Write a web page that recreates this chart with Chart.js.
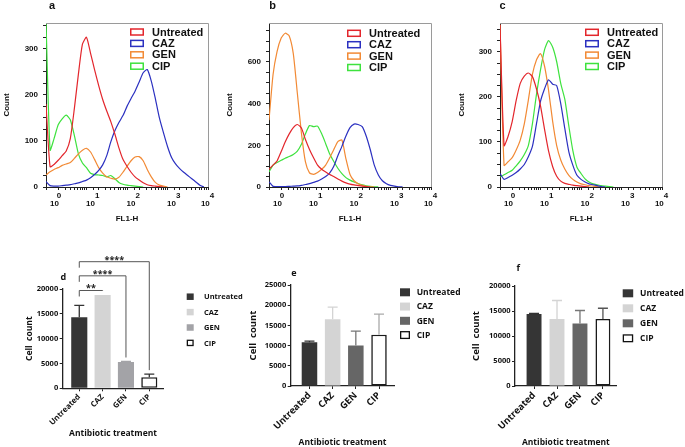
<!DOCTYPE html>
<html>
<head>
<meta charset="utf-8">
<script src="https://cdn.jsdelivr.net/npm/chart.js@4.4.1/dist/chart.umd.min.js"></script>
<style>
  body { margin: 0; background: #fff; }
  #wrap { position: relative; width: 685px; height: 447px; overflow: hidden; background: #fff; }
  canvas { position: absolute; }
</style>
</head>
<body>
<div id="wrap">
  <canvas id="histA" width="222" height="224" style="left:0px;top:0px"></canvas>
  <canvas id="histB" width="222" height="224" style="left:223px;top:0px"></canvas>
  <canvas id="histC" width="222" height="224" style="left:455px;top:0px"></canvas>
  <canvas id="barD" width="230" height="199" style="left:24px;top:240px"></canvas>
  <canvas id="barE" width="222" height="198" style="left:248px;top:250px"></canvas>
  <canvas id="barF" width="214" height="198" style="left:471px;top:250px"></canvas>
</div>
<script>
// FL1-H channels (0.1 decade apart)
const flChannels = [1, 1.26, 1.58, 2, 2.51, 3.16, 3.98, 5.01, 6.31, 7.94,
  10, 12.6, 15.8, 20, 25.1, 31.6, 39.8, 50.1, 63.1, 79.4,
  100, 126, 158, 200, 251, 316, 398, 501, 631, 794,
  1000, 1260, 1580, 2000, 2510, 3160, 3980, 5010, 6310, 7940, 10000];
const decades = [1, 10, 100, 1000, 10000];
const decadeLabels = ['0', '1', '2', '3', '4'];
const seriesNames = ['Untreated', 'CAZ', 'GEN', 'CIP'];

// panel a counts
const aUntreated = [180, 44, 49, 58, 68, 78, 105, 170, 245, 310, 325, 290, 255, 220, 190, 165, 142, 115, 85, 60, 45, 32, 22, 15, 9, 5, 3, 2, 1, 0];
const aCAZ = [12, 3, 2, 2, 3, 4, 5, 7, 9, 12, 15, 20, 27, 36, 48, 68, 98, 122, 140, 155, 175, 192, 208, 228, 248, 255, 230, 192, 150, 118, 88, 64, 50, 40, 32, 25, 18, 11, 4, 0];
const aGEN = [26, 33, 38, 42, 47, 50, 53, 62, 72, 80, 84, 76, 60, 42, 30, 22, 19, 17, 21, 32, 45, 57, 65, 66, 57, 38, 22, 10, 4, 2, 0];
const aCIP = [360, 80, 105, 135, 148, 156, 146, 112, 72, 52, 42, 30, 27, 26, 25, 22, 25, 18, 10, 6, 4, 3, 2, 1, 0];

// panel b counts
const bUntreated = [85, 105, 125, 170, 216, 255, 285, 300, 283, 228, 180, 140, 105, 85, 72, 60, 50, 38, 28, 20, 14, 10, 7, 4, 2, 0];
const bCAZ = [25, 3, 2, 2, 2, 3, 4, 5, 8, 12, 16, 22, 28, 38, 50, 68, 100, 150, 195, 245, 285, 302, 300, 290, 245, 180, 105, 58, 30, 16, 8, 4, 1, 0];
const bGEN = [320, 540, 650, 715, 738, 725, 640, 450, 260, 120, 68, 61, 70, 85, 105, 140, 180, 218, 225, 135, 60, 30, 16, 8, 3, 1, 0];
const bCIP = [72, 105, 118, 128, 138, 146, 156, 172, 205, 255, 295, 290, 292, 255, 208, 158, 122, 90, 64, 45, 33, 24, 17, 10, 6, 3, 1, 0];

// panel c counts
const cUntreated = [360, 92, 112, 145, 192, 230, 246, 253, 245, 218, 180, 128, 80, 45, 24, 13, 8, 6, 4, 3, 2, 1, 0];
const cCAZ = [30, 17, 21, 26, 32, 40, 50, 67, 90, 140, 190, 218, 238, 228, 225, 185, 130, 78, 48, 26, 17, 11, 7, 5, 3, 1, 0];
const cGEN = [360, 48, 56, 65, 82, 104, 140, 193, 250, 282, 296, 268, 215, 145, 92, 60, 40, 26, 17, 11, 7, 5, 3, 2, 1, 0];
const cCIP = [22, 27, 32, 37, 47, 58, 72, 92, 140, 205, 260, 305, 325, 310, 278, 230, 195, 135, 80, 44, 30, 18, 11, 7, 5, 3, 2, 1, 0];

// cell counts (mean, upper error)
const cats = ['Untreated', 'CAZ', 'GEN', 'CIP'];
const dMeans = [14300, 18800, 5300, 2250];
const dErr = [2400, 0, 100, 600];
const eMeans = [10800, 16500, 10000, 12700];
const eErr = [300, 3000, 3600, 5100];
const fMeans = [14400, 13400, 12500, 13400];
const fErr = [100, 3700, 2600, 2150];
const yTicksBar = [0, 5000, 10000, 15000, 20000, 25000];

// significance brackets in d
const sigFrom = [0, 0, 0];
const sigTo = [1, 2, 3];
const sigLevel = [19700, 22650, 25500];
const sigStars = ['**', '****', '****'];

const histColors = ['#e3262c', '#2b30c0', '#f28a35', '#3ee23e'];
const HF = 'Liberation Sans';
const BF = 'Open Sans';

function decor(cfg) {
  return {
    id: 'decor',
    afterDatasetsDraw(chart) {
      const ctx = chart.ctx;
      const area = chart.chartArea;
      ctx.save();
      if (cfg.frame) {
        ctx.strokeStyle = '#9a9a9a';
        ctx.lineWidth = 1;
        ctx.beginPath();
        ctx.moveTo(area.left, area.top + 0.5);
        ctx.lineTo(area.right + 0.5, area.top + 0.5);
        ctx.lineTo(area.right + 0.5, area.bottom);
        ctx.stroke();
      }
      if (cfg.errs) {
        const ys = chart.scales.y;
        const meta = chart.getDatasetMeta(0);
        cfg.errs.forEach((e, i) => {
          if (!e) return;
          const x = meta.data[i].x;
          const y0 = ys.getPixelForValue(cfg.means[i]);
          const y1 = ys.getPixelForValue(cfg.means[i] + e);
          ctx.strokeStyle = cfg.errColors[i];
          ctx.lineWidth = 1.3;
          ctx.beginPath();
          ctx.moveTo(x, y0);
          ctx.lineTo(x, y1);
          ctx.moveTo(x - 5, y1);
          ctx.lineTo(x + 5, y1);
          ctx.stroke();
        });
      }
      if (cfg.sig) {
        const ys = chart.scales.y;
        const meta = chart.getDatasetMeta(0);
        ctx.strokeStyle = '#555';
        ctx.lineWidth = 1;
        ctx.fillStyle = '#222';
        ctx.font = 'bold 9px "' + BF + '"';
        ctx.textAlign = 'center';
        ctx.textBaseline = 'alphabetic';
        sigFrom.forEach((f, k) => {
          const xa = meta.data[f].x;
          const xb = meta.data[sigTo[k]].x;
          const yl = ys.getPixelForValue(sigLevel[k]);
          const tgt = ys.getPixelForValue(cfg.means[sigTo[k]] + cfg.errs[sigTo[k]]) - 4;
          ctx.beginPath();
          ctx.moveTo(xa, yl + 6);
          ctx.lineTo(xa, yl);
          ctx.lineTo(xb, yl);
          ctx.lineTo(xb, Math.max(yl, tgt));
          ctx.stroke();
          ctx.fillText(sigStars[k], (xa + xb) / 2, yl + 1);
        });
      }
      if (cfg.legend) {
        const L = cfg.legend;
        ctx.font = L.font;
        ctx.textAlign = 'left';
        ctx.textBaseline = 'middle';
        seriesNames.forEach((lab, i) => {
          const y = L.y + L.dy * i;
          ctx.fillStyle = L.fills[i];
          ctx.fillRect(L.x, y - L.h / 2, L.w, L.h);
          if (L.strokes[i]) {
            ctx.strokeStyle = L.strokes[i];
            ctx.lineWidth = L.lw;
            ctx.strokeRect(L.x + L.lw / 2, y - L.h / 2 + L.lw / 2, L.w - L.lw, L.h - L.lw);
          }
          ctx.fillStyle = '#111';
          ctx.fillText(lab, L.textX, y + 0.5);
        });
      }
      if (cfg.letter) {
        ctx.fillStyle = '#111';
        ctx.font = cfg.letterFont;
        ctx.textAlign = 'center';
        ctx.textBaseline = 'middle';
        ctx.fillText(cfg.letter, cfg.letterX, cfg.letterY);
      }
      ctx.restore();
    }
  };
}

function pts(ys) {
  return ys.map((y, i) => ({ x: flChannels[i], y: y }));
}

// "10" with the exponent raised above its right end; the end labels are nudged inward
function decadeTick(i) {
  if (i === 0) return ['        ' + decadeLabels[i], '    10'];
  if (i === decades.length - 1) return [decadeLabels[i], '10      '];
  return ['      ' + decadeLabels[i], '10'];
}

function makeHist(id, series, o) {
  new Chart(document.getElementById(id), {
    type: 'line',
    data: {
      datasets: series.map((s, i) => ({
        label: seriesNames[i],
        data: pts(s),
        borderColor: histColors[i],
        borderWidth: 1.2,
        pointRadius: 0,
        tension: 0.2,
        fill: false
      }))
    },
    options: {
      responsive: false,
      animation: false,
      events: [],
      layout: { padding: { left: 0, right: o.padRight, top: 23, bottom: 0 } },
      plugins: { legend: { display: false }, tooltip: { enabled: false } },
      scales: {
        x: {
          type: 'logarithmic',
          min: 1,
          max: 10000,
          afterBuildTicks: s => { s.ticks = s.ticks.filter(t => t.value >= 1 && t.value <= 10000); },
          afterFit: s => { s.height = 224 - 187; },
          grid: { drawOnChartArea: false, tickLength: 3, color: '#222' },
          border: { color: '#222', width: 1 },
          ticks: {
            autoSkip: false, maxRotation: 0, minRotation: 0, labelOffset: 4, padding: 2, color: '#111',
            font: { family: HF, weight: 'bold', size: 8, lineHeight: 1 },
            callback: v => {
              const i = decades.findIndex(d => Math.abs(v - d) < d * 1e-6);
              return i < 0 ? '' : decadeTick(i);
            }
          },
          title: { display: true, text: 'FL1-H', color: '#111', padding: 0,
                   font: { family: HF, weight: 'bold', size: 8 } }
        },
        y: {
          min: 0,
          max: o.yMax,
          afterFit: s => { s.width = o.yWidth; },
          grid: { drawOnChartArea: false, tickLength: 3, color: '#222' },
          border: { color: '#222', width: 1 },
          ticks: {
            stepSize: o.yStep, includeBounds: false, autoSkip: false, padding: 5, color: '#111',
            font: { family: HF, weight: 'bold', size: 8 },
            callback: v => (v % o.yMajor === 0 ? String(v) : '')
          },
          title: { display: true, text: 'Count', color: '#111', padding: { top: 1.5, bottom: 0 },
                   font: { family: HF, weight: 'bold', size: 8 } }
        }
      }
    },
    plugins: [decor({
      frame: true,
      letter: o.letter, letterX: o.letterX, letterY: 6, letterFont: 'bold 11px "' + HF + '"',
      legend: {
        x: o.legX, textX: o.legX + 22, y: o.legY, dy: 11.4, w: 14, h: 7.5, lw: 1.5,
        fills: ['#fff', '#fff', '#fff', '#fff'], strokes: histColors,
        font: 'bold 11px "' + HF + '"'
      }
    })]
  });
}

function makeBars(id, means, errs, o) {
  new Chart(document.getElementById(id), {
    type: 'bar',
    data: {
      datasets: [{
        data: means.map((m, i) => ({ x: i, y: m })),
        backgroundColor: o.fills,
        borderColor: '#1a1a1a',
        borderWidth: [0, 0, 0, 1.6],
        borderSkipped: false,
        barPercentage: o.barPct,
        categoryPercentage: 1
      }]
    },
    options: {
      responsive: false,
      animation: false,
      events: [],
      layout: { padding: { left: 0, right: o.padRight, top: o.padTop, bottom: 0 } },
      plugins: { legend: { display: false }, tooltip: { enabled: false } },
      scales: {
        x: {
          type: 'linear',
          offset: false,
          min: o.xMin,
          max: o.xMax,
          afterBuildTicks: s => { s.ticks = cats.map((c, i) => ({ value: i })); },
          afterFit: s => { s.height = o.xHeight; },
          grid: { offset: false, drawOnChartArea: false, tickLength: 3, color: '#222' },
          border: { color: '#222', width: 1.3 },
          ticks: {
            autoSkip: false, minRotation: 45, maxRotation: 45, padding: 1, color: '#111',
            font: { family: BF, weight: 'bold', size: o.catFont },
            callback: v => cats[v]
          },
          title: { display: true, text: 'Antibiotic treatment', color: '#111', padding: 0,
                   font: { family: BF, weight: 'bold', size: 8.5 } }
        },
        y: {
          min: 0,
          max: o.yMax,
          afterBuildTicks: s => { s.ticks = yTicksBar.filter(t => t <= o.yMax).map(t => ({ value: t })); },
          afterFit: s => { s.width = o.yWidth; },
          grid: { drawOnChartArea: false, tickLength: 3, color: '#222' },
          border: { color: '#222', width: 1.3 },
          ticks: {
            autoSkip: false, padding: 1.5, color: '#111',
            font: { family: BF, weight: 'bold', size: 7.5 },
            callback: v => String(v)
          },
          title: { display: true, text: 'Cell  count', color: '#111', padding: 0,
                   font: { family: BF, weight: 'bold', size: o.titleFont } }
        }
      }
    },
    plugins: [decor({
      means: means, errs: errs, errColors: o.errColors, sig: o.sig,
      letter: o.letter, letterX: o.letterX, letterY: o.letterY, letterFont: 'bold 9px "' + BF + '"',
      legend: {
        x: o.legX, textX: o.legTextX, y: o.legY, dy: o.legDy, w: o.legW, h: o.legH, lw: 1.3,
        fills: o.fills, strokes: [null, null, null, '#111'],
        font: 'bold ' + o.legFont + 'px "' + BF + '"'
      }
    })]
  });
}

makeHist('histA', [aUntreated, aCAZ, aGEN, aCIP],
  { yMax: 356, yStep: 25, yMajor: 100, yWidth: 46, padRight: 14, letter: 'a', letterX: 52, legX: 130, legY: 32 });
makeHist('histB', [bUntreated, bCAZ, bGEN, bCIP],
  { yMax: 787, yStep: 50, yMajor: 200, yWidth: 46, padRight: 14, letter: 'b', letterX: 49.5, legX: 124, legY: 33.3 });
makeHist('histC', [cUntreated, cCAZ, cGEN, cCIP],
  { yMax: 364, yStep: 25, yMajor: 100, yWidth: 45, padRight: 15, letter: 'c', letterX: 47.5, legX: 130, legY: 32.3 });

makeBars('barD', dMeans, dErr, {
  fills: ['#353535', '#d4d4d4', '#a3a3a7', '#ffffff'], errColors: ['#333', '#d4d4d4', '#a3a3a7', '#333'],
  yMax: 20000, xMin: -0.71, xMax: 3.6, barPct: 0.69, yWidth: 38.7, xHeight: 50.7, padTop: 49, padRight: 90.7,
  catFont: 7.8, titleFont: 8.5, sig: true,
  letter: 'd', letterX: 39.3, letterY: 37.3,
  legX: 162.7, legTextX: 180, legY: 56.7, legDy: 15.4, legW: 7, legH: 6.5, legFont: 7.5
});
makeBars('barE', eMeans, eErr, {
  fills: ['#353535', '#d4d4d4', '#666666', '#ffffff'], errColors: ['#333', '#d4d4d4', '#777', '#aaa'],
  yMax: 25000, xMin: -0.81, xMax: 3.66, barPct: 0.67, yWidth: 42.7, xHeight: 62, padTop: 35, padRight: 75.7,
  catFont: 9.4, titleFont: 9.5, sig: false,
  letter: 'e', letterX: 46, letterY: 23.3,
  legX: 152, legTextX: 168.7, legY: 42.3, legDy: 14.25, legW: 10, legH: 8, legFont: 8.5
});
makeBars('barF', fMeans, fErr, {
  fills: ['#353535', '#d4d4d4', '#666666', '#ffffff'], errColors: ['#333', '#d4d4d4', '#777', '#555'],
  yMax: 20000, xMin: -0.83, xMax: 3.6, barPct: 0.65, yWidth: 44, xHeight: 62, padTop: 36, padRight: 68.3,
  catFont: 9.4, titleFont: 9.5, sig: false,
  letter: 'f', letterX: 47.3, letterY: 18.3,
  legX: 151.7, legTextX: 169, legY: 43.3, legDy: 15, legW: 10.5, legH: 8, legFont: 8.5
});
</script>
</body>
</html>
